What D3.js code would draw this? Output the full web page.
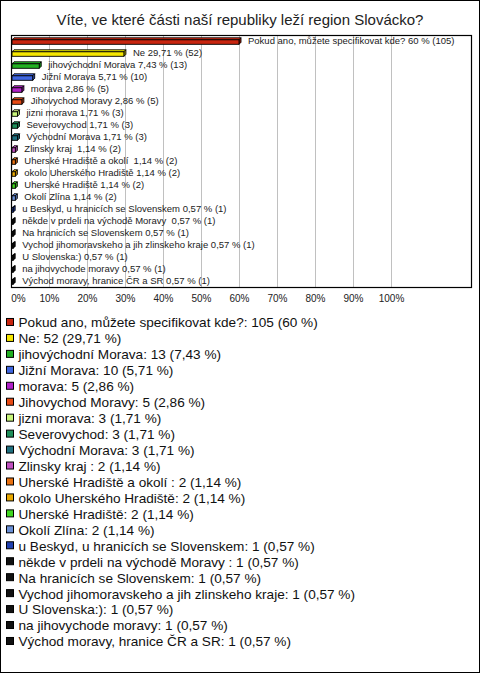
<!DOCTYPE html>
<html><head><meta charset="utf-8">
<script src="https://cdn.jsdelivr.net/npm/d3@7"></script>
<style>
html,body{margin:0;padding:0;background:#fff;}
svg text{font-family:Arial,"Liberation Sans",sans-serif;white-space:pre;}
</style></head>
<body>
<svg id="chart" width="480" height="673"></svg>
<script>
const title = "Víte, ve které části naší republiky leží region Slovácko?";
const categories = [
  "Pokud ano, můžete specifikovat kde?",
  "Ne",
  "jihovýchodní Morava",
  "Jižní Morava",
  "morava",
  "Jihovychod Moravy",
  "jizni morava",
  "Severovychod",
  "Východní Morava",
  "Zlinsky kraj ",
  "Uherské Hradiště a okolí ",
  "okolo Uherského Hradiště",
  "Uherské Hradiště",
  "Okolí Zlína",
  "u Beskyd, u hranicích se Slovenskem",
  "někde v prdeli na východě Moravy ",
  "Na hranicích se Slovenskem",
  "Vychod jihomoravskeho a jih zlinskeho kraje",
  "U Slovenska:)",
  "na jihovychode moravy",
  "Východ moravy, hranice ČR a SR"
];
const counts = [105, 52, 13, 10, 5, 5, 3, 3, 3, 2, 2, 2, 2, 2, 1, 1, 1, 1, 1, 1, 1];
const percents = [60, 29.71, 7.43, 5.71, 2.86, 2.86, 1.71, 1.71, 1.71, 1.14, 1.14, 1.14, 1.14, 1.14, 0.57, 0.57, 0.57, 0.57, 0.57, 0.57, 0.57];
const colors = ["#c8250f", "#f5e600", "#22b022", "#3f66e0", "#b020c8", "#e84a14", "#c8f57a", "#1f8f5a",
  "#1f7080", "#c050c0", "#e87010", "#e8a800", "#40d820", "#6a90d8", "#2040b0",
  "#111111", "#111111", "#111111", "#111111", "#111111", "#111111"];
const ticks = [0, 10, 20, 30, 40, 50, 60, 70, 80, 90, 100];

const fmt = p => (Number.isInteger(p) ? String(p) : p.toFixed(2).replace(".", ","));

const svg = d3.select("#chart");
svg.append("rect").attr("x", 0.5).attr("y", 0.5).attr("width", 479).attr("height", 672)
  .attr("fill", "#fff").attr("stroke", "#000");

svg.append("text").attr("x", 240).attr("y", 25).attr("text-anchor", "middle")
  .attr("font-size", "15px").attr("fill", "#222").text(title);

const plot = {left: 11, right: 471, top: 35, bottom: 287};
const x = d3.scaleLinear().domain([0, 100]).range([plot.left, 391]);
const y = d3.scaleBand().domain(categories).range([plot.top, plot.bottom]);

// grid
svg.append("g").selectAll("line").data(ticks.slice(1)).join("line")
  .attr("x1", d => Math.round(x(d)) + 0.5).attr("x2", d => Math.round(x(d)) + 0.5)
  .attr("y1", plot.top).attr("y2", plot.bottom)
  .attr("stroke", "#c0c0c0").attr("stroke-width", 1);

svg.append("rect").attr("x", plot.left + 0.5).attr("y", plot.top + 0.5)
  .attr("width", plot.right - plot.left).attr("height", plot.bottom - plot.top)
  .attr("fill", "none").attr("stroke", "#000").attr("stroke-width", 1.2);

// axis labels
const axis = d3.axisBottom(x).tickValues(ticks).tickSize(0).tickPadding(0).tickFormat(d => d + "%");
const ag = svg.append("g").attr("transform", `translate(0,${plot.bottom + 8})`).call(axis);
ag.select(".domain").remove();
ag.selectAll("text").attr("font-size", "10px").attr("fill", "#222").attr("dy", "0.71em")
  .attr("font-family", "Arial, 'Liberation Sans', sans-serif");
ag.selectAll(".tick").filter(d => d === 0).select("text").attr("x", 7);

// 3D bars
const depth = 2, fh = 4.5;
const bars = svg.append("g").selectAll("g").data(categories).join("g");
bars.each(function(c, i) {
  const g = d3.select(this);
  const cy = y(c) + y.bandwidth() / 2;
  const x0 = x(0) + 1, x1 = x(percents[i]);
  const top = cy - 1.2;
  const col = d3.color(colors[i]);
  g.append("path").attr("d",
    `M${x0},${top} L${x0 + depth},${top - depth} L${x1 + depth},${top - depth} L${x1},${top} Z`)
    .attr("fill", col.brighter(0.4)).attr("stroke", "#000").attr("stroke-width", 0.9);
  g.append("path").attr("d",
    `M${x1},${top} L${x1 + depth},${top - depth} L${x1 + depth},${top + fh - depth} L${x1},${top + fh} Z`)
    .attr("fill", col.darker(0.6)).attr("stroke", "#000").attr("stroke-width", 0.9);
  g.append("rect").attr("x", x0).attr("y", top).attr("width", Math.max(0.5, x1 - x0)).attr("height", fh)
    .attr("fill", col).attr("stroke", "#000").attr("stroke-width", 0.9);
  g.append("text").attr("x", x1 + depth + 7).attr("y", cy).attr("dy", "0.35em")
    .attr("font-size", "9.5px").attr("fill", "#222")
    .text(`${c} ${fmt(percents[i])} % (${counts[i]})`);
});

// legend
const ly = d3.scaleBand().domain(categories).range([314.5, 314.5 + 21 * 15.95]);
const lg = svg.append("g").selectAll("g").data(categories).join("g")
  .attr("transform", c => `translate(0,${ly(c) + ly.bandwidth() / 2})`);
lg.append("rect").attr("x", 6.5).attr("y", -4).attr("width", 7).attr("height", 7)
  .attr("fill", (c, i) => colors[i]).attr("stroke", "#000").attr("stroke-width", 1);
lg.append("text").attr("x", 18.5).attr("y", 0).attr("dy", "0.36em")
  .attr("font-size", "13.6px").attr("fill", "#111")
  .text((c, i) => `${c}: ${counts[i]} (${fmt(percents[i])} %)`);
</script>
</body></html>
